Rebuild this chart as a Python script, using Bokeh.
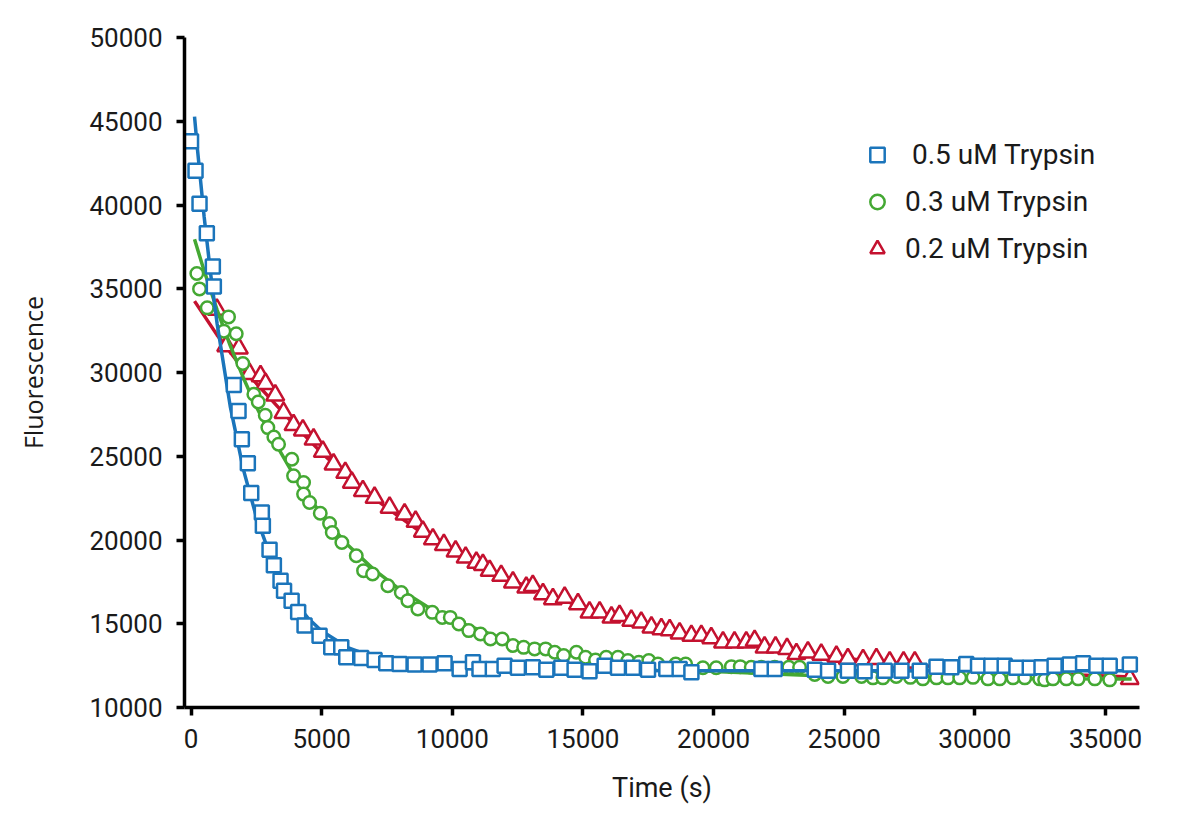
from bokeh.plotting import figure
from bokeh.models import FixedTicker, Range1d, Legend, LegendItem
from bokeh.embed import file_html
from bokeh.resources import INLINE

# ---- data ----
blue_t = [0, 172, 325, 605, 835, 873, 1638, 1818, 1945, 2174, 2304, 2710, 2749, 3005, 3170,
          3426, 3560, 3850, 4100, 4345, 4919, 5367, 5750, 5941, 6515, 7024, 7471, 7982, 8556,
          9130, 9704, 10280, 10790, 11040, 11550, 12000, 12510, 13080, 13600, 14170, 14680,
          15250, 15830, 16340, 16910, 17490, 18190, 18700, 19150, 21830, 22340, 23870, 24380,
          25140, 25780, 26550, 27190, 27890, 28530, 29100, 29670, 30120, 30630, 31140, 31590,
          32100, 32550, 33050, 33630, 34140, 34650, 35160, 35930]
blue_f = [43800, 42050, 40080, 38310, 36330, 35130, 29250, 27700, 26010, 24580, 22800, 21640,
          20850, 19420, 18500, 17570, 16970, 16380, 15700, 14890, 14290, 13590, 13590, 13000,
          12960, 12840, 12640, 12600, 12560, 12560, 12640, 12300, 12700, 12300, 12300, 12500,
          12370, 12400, 12250, 12370, 12250, 12160, 12500, 12370, 12370, 12250, 12300, 12300,
          12100, 12300, 12300, 12250, 12200, 12200, 12160, 12200, 12200, 12200, 12440, 12400,
          12600, 12500, 12500, 12500, 12370, 12370, 12400, 12500, 12560, 12640, 12500, 12500,
          12560]

green_t = [222, 325, 620, 1256, 1435, 1730, 1983, 2404, 2572, 2840, 2940, 3170, 3350, 3859,
           3924, 4307, 4307, 4536, 4946, 5302, 5405, 5773, 6324, 6603, 6948, 7533, 8046, 8299,
           8682, 9233, 9616, 9922, 10250, 10630, 11080, 11460, 11910, 12320, 12730, 13150,
           13570, 13920, 14260, 14750, 15100, 15480, 15890, 16340, 16720, 17140, 17520, 17870,
           18550, 18930, 19590, 20100, 20680, 21020, 21440, 21830, 22340, 22880, 23290, 23870,
           24380, 24950, 25660, 26100, 26480, 26990, 27530, 28010, 28530, 28970, 29420, 29930,
           30500, 30950, 31460, 31910, 32480, 32670, 32990, 33500, 33950, 34590, 35160]
green_f = [35910, 34990, 33860, 32470, 33320, 32310, 30540, 28700, 28240, 27450, 26710, 26150,
           25720, 24820, 23830, 23430, 22740, 22240, 21600, 20980, 20450, 19850, 19060, 18170,
           17970, 17270, 16870, 16380, 15880, 15680, 15380, 15380, 14990, 14590, 14390, 14090,
           14090, 13700, 13590, 13500, 13500, 13300, 13100, 13300, 13000, 12840, 13000, 13000,
           12800, 12700, 12800, 12600, 12600, 12600, 12370, 12370, 12440, 12440, 12400, 12400,
           12400, 12400, 12400, 11970, 11850, 11850, 11850, 11770, 11770, 11850, 11800, 11710,
           11770, 11770, 11770, 11800, 11710, 11710, 11770, 11770, 11710, 11650, 11710, 11710,
           11710, 11710, 11650]

red_t = [988, 1347, 1830, 2239, 2660, 2852, 3223, 3541, 3924, 4280, 4690, 5045, 5455, 5903,
         6155, 6577, 7024, 7599, 8173, 8594, 8873, 9256, 9677, 10125, 10510, 10920, 11170,
         11430, 11870, 12320, 12830, 13080, 13470, 13850, 14300, 14810, 15250, 15640, 16090,
         16400, 16850, 17230, 17620, 18000, 18320, 18700, 19150, 19530, 19910, 20360, 20800,
         21250, 21570, 21950, 22370, 22810, 23170, 23610, 24120, 24700, 25140, 25720, 26230,
         26740, 27270, 27700, 35930]
red_f = [33760, 31580, 31440, 29920, 29790, 29330, 28640, 27600, 26870, 26550, 26010, 25280,
         24520, 24020, 23430, 22930, 22530, 21940, 21540, 21100, 20510, 20050, 19710, 19320,
         18960, 18660, 18520, 18170, 17870, 17470, 17170, 17270, 16780, 16480, 16570, 16180,
         15680, 15680, 15380, 15480, 15190, 15080, 14790, 14690, 14630, 14430, 14290, 14290,
         14150, 13890, 13890, 13890, 13990, 13590, 13590, 13500, 13200, 13300, 13160, 13040,
         12900, 12840, 12900, 12700, 12700, 12700, 11710]

# fitted curves
blue_fit_t = [134, 250, 500, 750, 1000, 1500, 2000, 2500, 3000, 3500, 4000, 4500, 5000, 6000,
              7000, 8000, 9000, 10000, 12000, 15000, 20000, 36000]
blue_fit_f = [45280, 43260, 39330, 35890, 32890, 27980, 24230, 21370, 19200, 17540, 16270,
              15300, 14570, 13580, 13000, 12670, 12470, 12360, 12250, 12210, 12200, 12200]
green_fit_t = [134, 500, 1000, 1500, 2000, 2500, 3000, 4000, 5000, 6000, 7000, 8000, 9000,
               10000, 12000, 14000, 16000, 18000, 20000, 24000, 28000, 32000, 36000]
green_fit_f = [37950, 36080, 33730, 31610, 29690, 27960, 26400, 23700, 21500, 19700, 18230,
               17040, 16060, 15250, 14070, 13270, 12740, 12390, 12150, 11890, 11770, 11720, 11700]
red_fit_t = [134, 1000, 2000, 3000, 4000, 5000, 6000, 7000, 8000, 9000, 10000, 12000, 14000,
             16000, 18000, 20000, 22000, 24000, 26000, 28000, 30000, 32000, 34000, 36000]
red_fit_f = [34260, 32230, 30200, 28500, 26800, 25200, 23800, 22500, 21350, 20250, 19300,
             17760, 16520, 15520, 14710, 14060, 13540, 13110, 12770, 12490, 12270, 12090,
             11940, 11820]

series_labels = [" 0.5 uM Trypsin", "0.3 uM Trypsin", "0.2 uM Trypsin"]
x_ticks = [0, 5000, 10000, 15000, 20000, 25000, 30000, 35000]
y_ticks = [10000, 15000, 20000, 25000, 30000, 35000, 40000, 45000, 50000]

BLUE = "#1b75bb"
GREEN = "#44a833"
RED = "#c4112f"
FONT = "Roboto"
TXT = "#1a1a1a"

p = figure(width=1184, height=806, output_backend="svg", toolbar_location=None,
           x_range=Range1d(-250, 36300), y_range=Range1d(10000, 50000),
           min_border_left=184, min_border_right=45, min_border_top=37, min_border_bottom=99,
           x_axis_label="Time (s)", y_axis_label="Fluorescence")
p.background_fill_color = "white"
p.border_fill_color = "white"
p.outline_line_color = None
p.grid.visible = False

for ax, ticks in ((p.xaxis, x_ticks), (p.yaxis, y_ticks)):
    ax.ticker = FixedTicker(ticks=ticks)
    ax.axis_line_width = 3.5
    ax.axis_line_color = "black"
    ax.major_tick_line_width = 3.5
    ax.major_tick_line_color = "black"
    ax.major_tick_in = 0
    ax.major_tick_out = 8
    ax.minor_tick_line_color = None
    ax.major_label_text_font = FONT
    ax.major_label_text_font_size = "26px"
    ax.major_label_text_color = TXT
    ax.axis_label_text_font_style = "normal"
    ax.axis_label_text_color = TXT
p.xaxis.major_label_standoff = 13
p.yaxis.major_label_standoff = 14
p.xaxis.axis_label_text_font = FONT
p.xaxis.axis_label_text_font_size = "27px"
p.xaxis.axis_label_standoff = 21
p.yaxis.axis_label_text_font = "Open Sans"
p.yaxis.axis_label_text_font_size = "25px"
p.yaxis.axis_label_standoff = 36

# fit lines and markers
r_line = p.line(red_fit_t, red_fit_f, line_color=RED, line_width=3.5)
r_pts = p.scatter(red_t, red_f, marker="triangle", size=18, fill_color="white",
                  line_color=RED, line_width=2.5)
g_line = p.line(green_fit_t, green_fit_f, line_color=GREEN, line_width=3.5)
g_pts = p.scatter(green_t, green_f, marker="circle", size=12.5, fill_color="white",
                  line_color=GREEN, line_width=2.5)
b_line = p.line(blue_fit_t, blue_fit_f, line_color=BLUE, line_width=3.5)
b_pts = p.scatter(blue_t, blue_f, marker="square", size=14, fill_color="white",
                  line_color=BLUE, line_width=2.5)

legend = Legend(items=[LegendItem(label=series_labels[0], renderers=[b_pts]),
                       LegendItem(label=series_labels[1], renderers=[g_pts]),
                       LegendItem(label=series_labels[2], renderers=[r_pts])],
                location=(675, 435))
legend.glyph_width = 36
legend.glyph_height = 47
legend.label_height = 47
legend.spacing = 0
legend.padding = 0
legend.margin = 0
legend.label_standoff = 10
legend.border_line_color = None
legend.background_fill_alpha = 0
legend.label_text_font = FONT
legend.label_text_font_size = "28px"
legend.label_text_color = TXT
p.add_layout(legend)

open("out.html", "w").write(file_html(p, INLINE))
